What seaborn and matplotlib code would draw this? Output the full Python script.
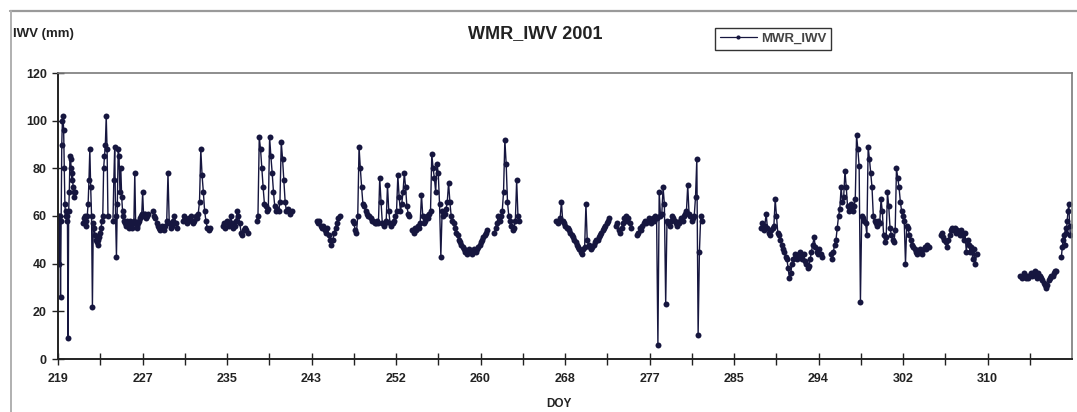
import numpy as np
import pandas as pd
import matplotlib
matplotlib.use("Agg")
import matplotlib.pyplot as plt
from matplotlib.lines import Line2D
import seaborn as sns

# Start / end (day of year) of each continuous microwave-radiometer record
seg_start = [219.00, 221.44, 224.38, 228.29, 231.22, 235.13, 238.45, 244.32, 247.84,
             253.70, 261.72, 267.78, 273.64, 275.70, 287.82, 294.66, 305.41, 313.23, 317.24]
seg_end = [220.66, 223.89, 227.80, 230.63, 233.86, 237.57, 241.87, 246.57, 253.41,
           261.03, 264.16, 272.96, 275.11, 282.05, 293.78, 304.24, 308.93, 316.75, 318.12]

# Integrated water vapour (mm), one list per record
iwv_a = [59, 60, 40, 60, 26, 58, 90, 100, 102, 96, 80, 65, 60, 62, 58, 60, 9, 62, 70, 85,
         84, 80, 75, 78, 72, 70, 68, 70]
iwv_b = [57, 59, 60, 56, 58, 60, 65, 75, 88, 72, 60, 22, 57, 55, 52, 50, 49, 48, 50, 51,
         53, 55, 58, 60, 80, 85, 90, 102, 88, 60]
iwv_c = [58, 75, 89, 60, 43, 65, 88, 85, 70, 80, 68, 62, 60, 58, 57, 56, 58, 56, 55, 57,
         58, 56, 55, 57, 58, 78, 57, 56, 55, 57, 58, 59, 60, 61, 70, 61, 60, 61, 59, 60, 61]
iwv_d = [62, 60, 59, 57, 56, 55, 54, 56, 55, 54, 56, 58, 78, 57, 55, 56, 58, 60, 57, 55]
iwv_e = [58, 60, 59, 57, 58, 59, 60, 58, 57, 58, 60, 59, 61, 66, 88, 77, 70, 62, 58, 55,
         54, 55]
iwv_f = [56, 57, 55, 58, 57, 56, 60, 57, 55, 56, 58, 62, 60, 57, 53, 52, 54, 55, 54, 53]
iwv_g = [58, 60, 93, 88, 80, 72, 65, 64, 62, 63, 93, 85, 78, 70, 64, 62, 63, 62, 66, 91,
         84, 75, 66, 62, 63, 62, 61, 62]
iwv_h = [58, 57, 58, 56, 55, 56, 54, 53, 55, 52, 50, 48, 50, 53, 55, 57, 59, 60]
iwv_i = [58, 57, 54, 53, 60, 89, 80, 72, 65, 64, 62, 61, 60, 60, 59, 58, 58, 57, 57, 58,
         57, 76, 66, 57, 56, 57, 58, 73, 62, 57, 56, 57, 58, 60, 62, 77, 68, 62, 65, 70,
         78, 72, 64, 61, 60]
iwv_j = [54, 53, 55, 54, 56, 55, 57, 69, 60, 57, 58, 60, 59, 61, 62, 86, 80, 76, 70, 82,
         78, 65, 43, 62, 60, 61, 63, 66, 74, 66, 60, 58, 57, 55, 53, 52, 50, 49, 48, 47,
         46, 45, 44, 45, 46, 45, 44, 45, 46, 45, 46, 47, 48, 49, 50, 51, 52, 53, 54]
iwv_k = [53, 55, 57, 60, 58, 60, 62, 70, 92, 82, 66, 60, 58, 56, 54, 55, 58, 75, 60, 58]
iwv_l = [58, 57, 58, 59, 66, 58, 57, 56, 55, 55, 54, 53, 52, 51, 50, 49, 48, 47, 46, 45,
         44, 46, 47, 65, 50, 48, 47, 46, 47, 48, 49, 50, 50, 51, 52, 53, 54, 55, 56, 57,
         58, 59]
iwv_m = [56, 57, 54, 53, 55, 57, 59, 60, 58, 59, 57, 55]
iwv_n = [52, 53, 55, 54, 56, 57, 58, 57, 58, 59, 58, 57, 59, 58, 60, 59, 6, 70, 60, 61,
         72, 65, 23, 58, 57, 56, 58, 60, 59, 58, 57, 56, 57, 58, 59, 58, 60, 61, 62, 73,
         61, 60, 58, 59, 60, 68, 84, 10, 45, 60, 58]
iwv_o = [55, 57, 54, 56, 61, 55, 53, 52, 54, 55, 56, 67, 60, 53, 52, 50, 48, 46, 45, 43,
         42, 38, 34, 36, 40, 42, 44, 43, 42, 44, 45, 43, 42, 44, 41, 40, 38, 39, 42, 45,
         48, 51, 47, 45, 44, 46, 44, 43]
iwv_p = [44, 42, 45, 48, 50, 55, 60, 63, 72, 66, 68, 79, 72, 64, 62, 63, 65, 62, 64, 67,
         94, 88, 81, 24, 60, 59, 58, 57, 52, 89, 84, 78, 72, 60, 58, 57, 56, 58, 57, 67,
         62, 52, 49, 51, 70, 64, 55, 52, 50, 49, 54, 80, 76, 72, 66, 62, 60, 58, 40, 56,
         55, 52, 50, 48, 47, 46, 45, 44, 45, 46, 45, 44, 46, 47, 46, 48, 47]
iwv_q = [52, 53, 51, 50, 49, 47, 50, 52, 54, 55, 54, 55, 53, 54, 53, 52, 54, 52, 50, 53,
         45, 50, 48, 45, 47, 42, 46, 40, 44]
iwv_r = [35, 34, 35, 36, 34, 35, 34, 35, 36, 35, 36, 37, 35, 34, 36, 35, 34, 33, 32, 31,
         30, 31, 33, 34, 35, 35, 36, 37, 37]
iwv_s = [43, 47, 50, 52, 48, 55, 53, 58, 62, 65, 56, 52]

records = [iwv_a, iwv_b, iwv_c, iwv_d, iwv_e, iwv_f, iwv_g, iwv_h, iwv_i, iwv_j,
           iwv_k, iwv_l, iwv_m, iwv_n, iwv_o, iwv_p, iwv_q, iwv_r, iwv_s]

# Day-of-year labels shown under the axis
day_labels = ["219", "227", "235", "243", "252", "260", "268", "277", "285", "294",
              "302", "310"]

frames = []
for k, (s, e, vals) in enumerate(zip(seg_start, seg_end, records)):
    frames.append(pd.DataFrame({"doy": np.linspace(s, e, len(vals)),
                                "iwv": vals, "rec": k}))
df = pd.concat(frames, ignore_index=True)

sns.set_style("white")
plt.rcParams["font.family"] = ["Liberation Sans", "DejaVu Sans"]

W, H = 1077, 412
fig = plt.figure(figsize=(W / 100, H / 100), dpi=100)
fig.patch.set_facecolor("white")

# chart frame lines along the top and left
fig.add_artist(Line2D([10 / W, 1.0], [1 - 11 / H, 1 - 11 / H], color="#9a9a9a",
                      lw=1.6, transform=fig.transFigure))
fig.add_artist(Line2D([11 / W, 11 / W], [0.0, 1 - 11 / H], color="#b0b0b0",
                      lw=1.4, transform=fig.transFigure))

ax = fig.add_axes([58 / W, 53 / H, (1072 - 58) / W, (359 - 73) / H])
ax.set_facecolor("white")

LINE = "#16163f"
sns.lineplot(data=df, x="doy", y="iwv", units="rec", estimator=None, sort=False,
             color=LINE, lw=1.0, marker="o", markersize=4.3, markeredgewidth=0,
             legend=False, ax=ax)

step = (310 - 219) / 11
ax.set_xlim(219, 219 + 12 * step)
ax.set_ylim(0, 120)

major = np.linspace(219, 310, 12)
ax.set_xticks(major)
ax.set_xticklabels(day_labels)
ax.set_xticks(major + step / 2, minor=True)
ax.set_yticks(np.arange(0, 121, 20))

ax.tick_params(axis="both", which="both", direction="inout", length=8, width=1.0,
               color="#222222", labelsize=9, labelcolor="#222222",
               bottom=True, left=True)
ax.tick_params(axis="x", pad=6)
ax.tick_params(axis="y", pad=4)
for lab in ax.get_xticklabels() + ax.get_yticklabels():
    lab.set_fontweight("bold")

for side in ("left", "bottom"):
    ax.spines[side].set_color("#222222")
    ax.spines[side].set_linewidth(1.4)
for side in ("top", "right"):
    ax.spines[side].set_color("#7a7a7a")
    ax.spines[side].set_linewidth(1.2)

ax.set_xlabel("")
ax.set_ylabel("")

fig.text(535 / W, 1 - 34 / H, "WMR_IWV 2001", ha="center", va="center",
         fontsize=13, fontweight="bold", color="#222222")
fig.text(13 / W, 1 - 34 / H, "IWV (mm)", ha="left", va="center",
         fontsize=9.5, fontweight="bold", color="#222222")
fig.text(559 / W, 1 - 404 / H, "DOY", ha="center", va="center",
         fontsize=8.5, fontweight="bold", color="#222222")

handle = Line2D([], [], color=LINE, lw=0.9, marker="o", markersize=3,
                markeredgewidth=0)
leg = fig.legend([handle], ["MWR_IWV"], loc="center", ncol=1,
                 bbox_to_anchor=(773 / W, 1 - 39 / H), frameon=True,
                 fancybox=False, framealpha=1, edgecolor="#333333",
                 handlelength=2.8, handletextpad=0.3, borderpad=0.4,
                 prop={"size": 9.5, "weight": "bold"})
leg.get_frame().set_linewidth(1.0)
for t in leg.get_texts():
    t.set_color("#444444")

fig.savefig("out.png", dpi=100)
